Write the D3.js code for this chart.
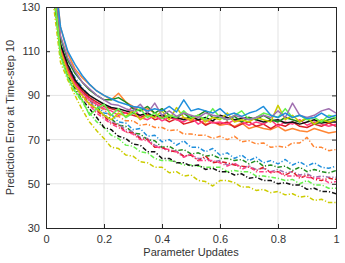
<!DOCTYPE html>
<html>
<head>
<meta charset="utf-8">
<script src="https://cdn.jsdelivr.net/npm/d3@7"></script>
<style>
  body { margin: 0; background: #fff; }
  svg { display: block; font-family: "Liberation Sans", Arial, sans-serif; }
</style>
</head>
<body>
<div id="chart"></div>
<script>
var width = 345
var height = 263
var margin = {top: 7, right: 9, bottom: 35, left: 46}

// x positions (parameter updates)
var xs = [0.025,0.05,0.075,0.1,0.125,0.15,0.175,0.2,0.225,0.25,0.275,0.3,0.325,0.35,0.375,0.4,0.425,0.45,0.475,0.5,
          0.525,0.55,0.575,0.6,0.625,0.65,0.675,0.7,0.725,0.75,0.775,0.8,0.825,0.85,0.875,0.9,0.925,0.95,0.975,1]

var xTicks = [0, 0.2, 0.4, 0.6, 0.8, 1]
var yTicks = [30, 50, 70, 90, 110, 130]

// solid series
var blueSolid = [150,121,110,104,99,95,92,90,88.5,87,86,85,84.5,83,84,83,85,82.5,88,83,84,83,82,84,81,82,80.5,82,83,85,81,80,82,80,81,79.5,80,82,80,81]
var purpleSolid = [148,117,107,101,96,93,90,88,86,85.5,84,83,86,82,86.5,81,83,80.5,82,81,80,82,81,80.5,79,81,80,79,80,81,80,83,80,86.5,81,80,81,83,84,82]
var greenSolid = [146,116,106,100,96,92.5,90,88,88,89,87,84,83,85,82,84,81,80,82,79.5,81,83,80,80,79,80.5,78,80,79,81,79,78,80,79,78,79.5,77,78,79,80]
var blackSolid = [145,113,104,97,93,90,88,86,84.5,84,83,82,81,82,80.5,81,80,80,79,80.5,79,80,78.5,81,80,79,79.5,80,79,78,78.5,79,77.5,78,77,78,79,77.5,78,78]
var redSolid = [144,112,102,96,92,89,87,85,84,83,82,81,80,81.5,79,80,78,79.5,77,78,79,76.5,78,77,78,75.5,77,78,76,77,75,77,76,78,76,75.5,77,76,77.5,76]
var orangeSolid = [152,121,109,102,98,95,92,90,88,91,87,85,83,84,82,80,81,79,80,78.5,79,77,78,76.5,77,76,77.5,75,76,75,74.5,76,74,75,74,73.5,75,74,73,73.5]
var pinkSolid = [143,111,101,95,91,88,86,84,83,81,82,85,80,79,81,78.5,80,79,78,80,77,79,77.5,78,77,79,78,76.5,78,77,79,76,78,77,79,76.5,78,77,76,77]
var yellowSolid = [142,110,100,94,90,86,84,81,79,82,80.5,83,79,81,80,83,79,84.5,80,79,81,78,80,79,82,78,79,78,80,79,78,85.5,79,81,78,80,77,79,78,79]
var lgreenSolid = [140,108,98,92,88,81,84,86,81,84,80,82,84,80,82,79.5,81,80,83,80,81,79,84,80,79,81,83,79,80,82,81,80,84,80,81,79,80,78,81,80]

// dash-dot series
var orangeDash = [140,112,103,97,92.5,89,85.5,83.5,80.5,80.5,78.5,78.5,76.5,77,75.5,75.5,74,74.5,72.5,72.5,72,72,70.5,71.5,70,71.5,69,69.5,68,68.5,66.5,67,66.5,68.5,68.5,71,66.5,66.5,65,65.5]
var blueDash = [142,114,104,98,93.5,89.5,86,82,81.5,78,77.5,74.5,75,71.5,72,69,70,67.5,69.5,66.5,66.5,64.5,66,63,64,61.5,63,60.5,62,59.5,60.5,59,61,58.5,60,58,59.5,57.5,57,58]
var greenDash = [141,113,103,97,92,88,85,81,79.5,76.5,76,73,72.5,70,69.5,66.5,67,65,65.5,63.5,64,62.5,63,61.5,61.5,60.5,61,59,60.5,58,58.5,57.5,58,56,57.5,55.5,56.5,55.5,55,56]
var redDash = [139,111,101,95,90.5,86.5,83,80.5,77.5,76.5,73.5,73,70.5,70,66.5,66.5,65,64.5,62.5,63,60.5,62.5,59.5,60,59.5,58.5,58,57.5,56,57.5,55,55.5,54,55.5,52.5,54,52,51.5,52.5,52]
var pinkDash = [138,110,100,94,89.5,85.5,82,79.5,77,75.5,73.5,72.5,70,69.5,67,66,65.5,64.5,62,63.5,60.5,60.5,60.5,59.5,58,59.5,56.5,58,55.5,55.5,55.5,55.5,53.5,53.5,53.5,53,52.5,52.5,50.5,51]
var purpleDash = [140,112,102,96,91.5,87.5,83.5,81,78,77,74.5,73.5,71,70.5,67.5,66.5,64.5,65,62.5,63,61.5,61.5,60,60.5,58.5,59,57.5,58,56.5,57,55.5,56.5,55,55.5,54,54.5,53,53.5,53,53]
var blackDash = [137,109,99,93,88,84,80,75.5,74.5,71.5,70.5,68,67.5,64.5,64.5,61.5,61.5,59.5,59.5,58,58.5,56.5,57,55.5,55.5,54,54.5,52.5,53,51.5,51.5,50,50.5,49.5,49.5,47.5,48,46.5,46.5,45.5]
var lgreenDash = [136,108,98,91.5,87,82,78,75.5,72,70.5,67.5,67,64.5,64,61.5,60.5,60.5,60,58.5,58.5,58,57.5,57.5,57.5,55.5,56,55.5,55.5,53.5,53.5,53,52.5,51.5,52,50,51.5,49.5,49.5,48,48]
var yellowDash = [132,105,97,90,83.5,78,74,70.5,66.5,66,63,62.5,60,59.5,57.5,57.5,55,55.5,53.5,54,51.5,51,49,51.5,51.5,50.5,48.5,48.5,47,47.5,46,46.5,45,45.5,44,44.5,42.5,43,41.5,41.5]

var series = [
  {values: orangeDash, color: "#ff8533", dash: true},
  {values: blueDash, color: "#1f8fdc", dash: true},
  {values: greenDash, color: "#1f8c1f", dash: true},
  {values: purpleDash, color: "#a070b0", dash: true},
  {values: redDash, color: "#dd1f26", dash: true},
  {values: pinkDash, color: "#ff3d85", dash: true},
  {values: lgreenDash, color: "#66f04d", dash: true},
  {values: blackDash, color: "#111111", dash: true},
  {values: yellowDash, color: "#cccc00", dash: true},
  {values: orangeSolid, color: "#ff8533", dash: false},
  {values: redSolid, color: "#dd1f26", dash: false},
  {values: pinkSolid, color: "#ff3d85", dash: false},
  {values: blackSolid, color: "#111111", dash: false},
  {values: greenSolid, color: "#1f8c1f", dash: false},
  {values: yellowSolid, color: "#cccc00", dash: false},
  {values: lgreenSolid, color: "#66f04d", dash: false},
  {values: purpleSolid, color: "#a070b0", dash: false},
  {values: blueSolid, color: "#1f8fdc", dash: false}
]

var svg = d3.select("#chart").append("svg")
  .attr("width", width).attr("height", height)

var x = d3.scaleLinear().domain([0, 1]).range([margin.left, width - margin.right])
var y = d3.scaleLinear().domain([30, 130]).range([height - margin.bottom, margin.top])

// grid
svg.append("g").selectAll("line").data(xTicks.slice(1, -1)).enter().append("line")
  .attr("x1", function(d) { return x(d) }).attr("x2", function(d) { return x(d) })
  .attr("y1", y(30)).attr("y2", y(130))
  .attr("stroke", "#e3e3e3").attr("stroke-width", 1)
svg.append("g").selectAll("line").data(yTicks.slice(1, -1)).enter().append("line")
  .attr("y1", function(d) { return y(d) }).attr("y2", function(d) { return y(d) })
  .attr("x1", x(0)).attr("x2", x(1))
  .attr("stroke", "#e3e3e3").attr("stroke-width", 1)

svg.append("clipPath").attr("id", "clip").append("rect")
  .attr("x", x(0)).attr("y", y(130)).attr("width", x(1) - x(0)).attr("height", y(30) - y(130))

var line = d3.line()
  .x(function(d, i) { return x(xs[i]) })
  .y(function(d) { return y(d) })

svg.append("g").attr("clip-path", "url(#clip)")
  .selectAll("path").data(series).enter().append("path")
  .attr("d", function(d) { return line(d.values) })
  .attr("fill", "none")
  .attr("stroke", function(d) { return d.color })
  .attr("stroke-width", 1.5)
  .attr("stroke-dasharray", function(d) { return d.dash ? "4.5,2,1.2,2" : null })
  .attr("stroke-linejoin", "round")

// axes, MATLAB-like box with inward ticks
var axisColor = "#262626"
var bAxis = d3.axisBottom(x).tickValues(xTicks).tickSize(-4).tickPadding(7).tickFormat(d3.format("~g"))
var tAxis = d3.axisTop(x).tickValues(xTicks).tickSize(-4).tickFormat("")
var lAxis = d3.axisLeft(y).tickValues(yTicks).tickSize(-4).tickPadding(6)
var rAxis = d3.axisRight(y).tickValues(yTicks).tickSize(-4).tickFormat("")

svg.append("g").attr("transform", "translate(0," + y(30) + ")").call(bAxis)
svg.append("g").attr("transform", "translate(0," + y(130) + ")").call(tAxis)
svg.append("g").attr("transform", "translate(" + x(0) + ",0)").call(lAxis)
svg.append("g").attr("transform", "translate(" + x(1) + ",0)").call(rAxis)

svg.selectAll(".domain").attr("stroke", axisColor)
svg.selectAll(".tick line").attr("stroke", axisColor)
svg.selectAll(".tick text").attr("fill", "#333").style("font-size", "11px")

svg.append("text")
  .attr("x", (x(0) + x(1)) / 2).attr("y", 256)
  .attr("text-anchor", "middle").attr("fill", "#333")
  .style("font-size", "11px")
  .text("Parameter Updates")

svg.append("text")
  .attr("transform", "translate(10," + ((y(30) + y(130)) / 2) + ") rotate(-90)")
  .attr("text-anchor", "middle").attr("dy", "0.35em").attr("fill", "#333")
  .style("font-size", "11px")
  .text("Prediction Error at Time-step 10")
</script>
</body>
</html>
